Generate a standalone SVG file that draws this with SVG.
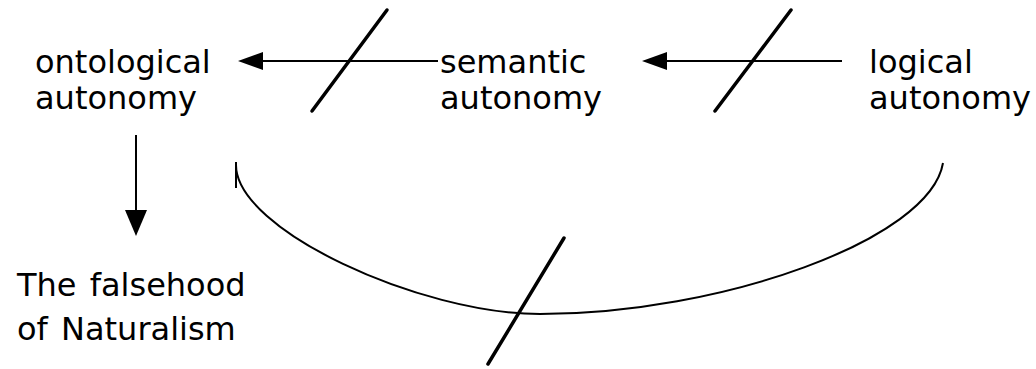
<svg xmlns="http://www.w3.org/2000/svg" width="1036" height="369" viewBox="0 0 1036 369">
<defs>
<style>
text{font-family:"DejaVu Sans","Liberation Sans",sans-serif;font-size:32px;fill:#000}
.ln{stroke:#000;stroke-width:2;fill:none}
.sl{stroke:#000;stroke-width:3.5;fill:none;stroke-linecap:round}
.hd{fill:#000}
</style>
</defs>
<rect width="1036" height="369" fill="#fff"/>
<g id="ontological">
<text x="35" y="73">ontological</text>
<text x="35" y="109">autonomy</text>
</g>
<g id="semantic">
<text x="440" y="73">semantic</text>
<text x="440" y="109">autonomy</text>
</g>
<g id="logical">
<text x="869" y="73">logical</text>
<text x="869" y="109">autonomy</text>
</g>
<g id="naturalism">
<text x="17" y="296" word-spacing="3">The falsehood</text>
<text x="17" y="340" word-spacing="3">of Naturalism</text>
</g>
<g id="connectors">
<line class="ln" x1="258" y1="61" x2="438" y2="61"/>
<polygon class="hd" points="238,61 263,52 263,70"/>
<line class="sl" x1="312" y1="111" x2="387" y2="10"/>
<line class="ln" x1="660" y1="61" x2="842" y2="61"/>
<polygon class="hd" points="642,61 667,52 667,70"/>
<line class="sl" x1="715" y1="111" x2="791" y2="10"/>
<line class="ln" x1="136" y1="135" x2="136" y2="212"/>
<polygon class="hd" points="136,236 125,210 147,210"/>
<path class="ln" d="M236,162 L236,188"/>
<path class="ln" stroke-width="2.5" d="M236,165 C236,230 420,314 540,314 C720,314 930,240 943,163"/>
<line class="sl" x1="488" y1="364" x2="564" y2="238"/>
</g>
</svg>
